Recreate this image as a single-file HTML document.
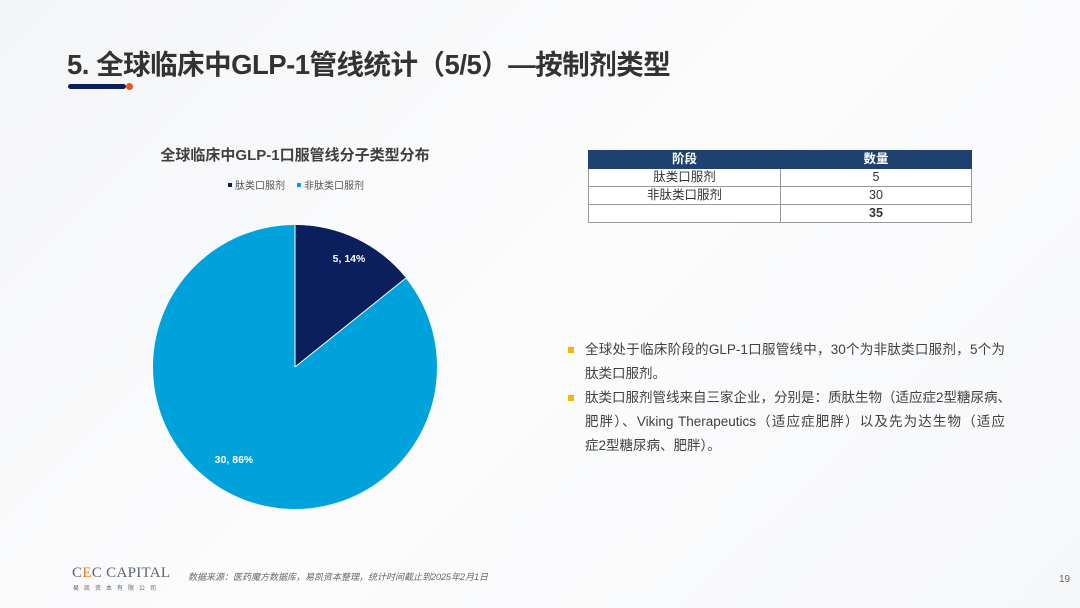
<!DOCTYPE html>
<html><head><meta charset="utf-8"><style>
*{margin:0;padding:0;box-sizing:border-box}
body{width:1080px;height:608px;overflow:hidden;position:relative;background:linear-gradient(135deg,#f4f5f7 0%,#fcfcfd 50%,#f6f7f9 100%);font-family:"Liberation Sans","Noto Sans CJK SC",sans-serif;color:#333}
.a{position:absolute}
.title{left:67px;top:42px;font-size:27.5px;font-weight:bold;color:#333;white-space:nowrap;letter-spacing:-0.5px}
.ct{left:150px;top:144px;width:290px;text-align:center;font-size:15px;font-weight:bold;color:#404040;white-space:nowrap}
.lg{top:177px;font-size:10px;color:#555;white-space:nowrap}
table{border-collapse:collapse;font-size:12.5px}
td{border:1px solid #999;height:18px;text-align:center;padding:0;line-height:17px}
.bl{left:585px;width:420px;font-size:13.5px;line-height:24px;color:#404040}
.ln{text-align:justify;text-align-last:justify;white-space:nowrap}
.sq{position:absolute;left:-17px;width:6px;height:6px;background:#f5b800}
</style></head><body>
<div class="a title">5. 全球临床中GLP-1管线统计（5/5）—按制剂类型</div>
<div class="a" style="left:68px;top:84px;width:58px;height:5px;border-radius:3px;background:#0b1f5c"></div>
<div class="a" style="left:126px;top:83px;width:7px;height:7px;border-radius:50%;background:#e8531c"></div>
<div class="a ct">全球临床中GLP-1口服管线分子类型分布</div>
<div class="a lg" style="left:228px"><span style="display:inline-block;width:4px;height:4px;background:#0b1f5c;margin-right:3px;vertical-align:2px"></span>肽类口服剂</div>
<div class="a lg" style="left:297px"><span style="display:inline-block;width:4px;height:4px;background:#00a0dc;margin-right:3px;vertical-align:2px"></span>非肽类口服剂</div>
<svg class="a" style="left:0;top:0" width="1080" height="608">
<circle cx="295" cy="367" r="142" fill="#00a2db"/>
<path d="M295,367 L295,225 A142,142 0 0 1 406,278 Z" fill="#0b1f5c"/>
<line x1="295" y1="367" x2="295" y2="225" stroke="#fff" stroke-width="1"/>
<line x1="295" y1="367" x2="406" y2="278" stroke="#fff" stroke-width="1"/>
<text x="349" y="262" fill="#fff" font-size="10.5" font-weight="bold" text-anchor="middle" font-family="Liberation Sans,sans-serif">5, 14%</text>
<text x="234" y="463" fill="#fff" font-size="10.5" font-weight="bold" text-anchor="middle" font-family="Liberation Sans,sans-serif">30, 86%</text>
</svg>
<table class="a" style="left:588px;top:150px;width:384px">
<tr style="background:#1f4170;color:#fff;font-weight:bold"><td style="width:192px;border-color:#1f4170">阶段</td><td style="border-color:#1f4170">数量</td></tr>
<tr style="background:#fff"><td>肽类口服剂</td><td>5</td></tr>
<tr style="background:#fff"><td>非肽类口服剂</td><td>30</td></tr>
<tr style="background:#fff"><td></td><td style="font-weight:bold">35</td></tr>
</table>
<div class="a bl" style="top:338px">
<div class="ln" style="position:relative"><span class="sq" style="top:9px"></span>全球处于临床阶段的GLP-1口服管线中，30个为非肽类口服剂，5个为</div>
<div>肽类口服剂。</div>
<div class="ln" style="position:relative"><span class="sq" style="top:9px"></span>肽类口服剂管线来自三家企业，分别是：质肽生物（适应症2型糖尿病、</div>
<div class="ln">肥胖）、Viking Therapeutics（适应症肥胖）以及先为达生物（适应</div>
<div>症2型糖尿病、肥胖）。</div>
</div>
<div class="a" style="left:72px;top:565px;font-family:'Liberation Serif',serif;font-size:15px;color:#5a6470;letter-spacing:0.3px">C<span style="color:#e87a1e">E</span>C CAPITAL</div>
<div class="a" style="left:73px;top:583px;font-size:6px;color:#666;letter-spacing:5px">易凯资本有限公司</div>
<div class="a" style="left:188px;top:570px;font-size:9px;color:#666;font-style:italic">数据来源：医药魔方数据库，易凯资本整理，统计时间截止到2025年2月1日</div>
<div class="a" style="left:1059px;top:574px;font-size:10px;color:#666">19</div>
</body></html>
